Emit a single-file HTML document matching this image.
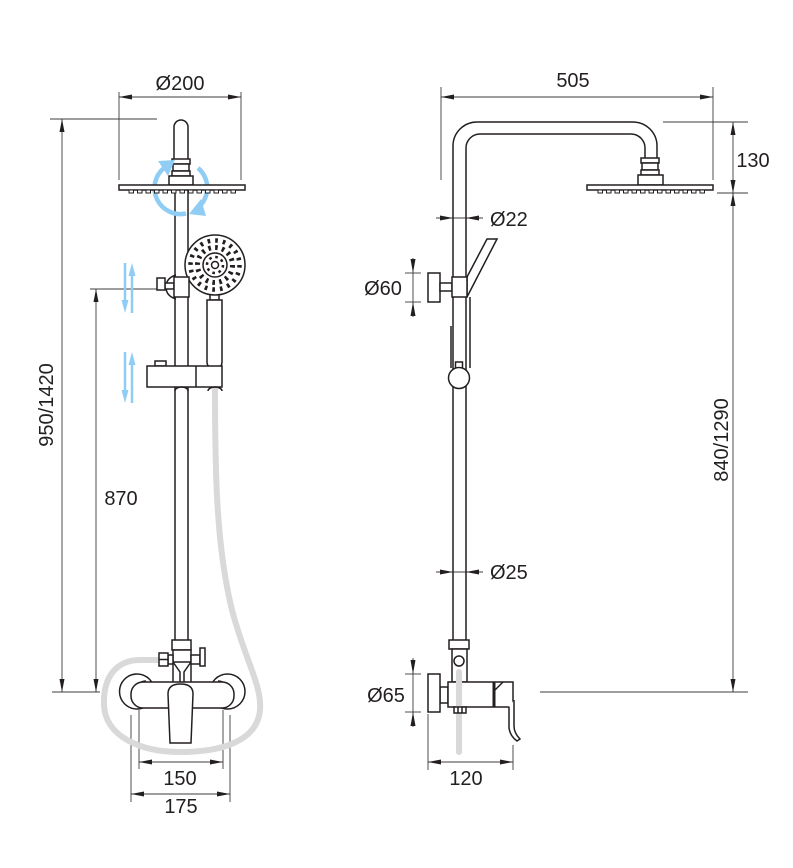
<!DOCTYPE html>
<html><head><meta charset="utf-8"><style>
html,body{margin:0;padding:0;background:#fff;}
svg{display:block;}
text{font-family:"Liberation Sans",sans-serif;font-size:20px;fill:#231f20;}
</style></head><body>
<svg width="793" height="868" viewBox="0 0 793 868" xmlns="http://www.w3.org/2000/svg">

<!-- ================= DIMENSION LINES ================= -->
<g stroke="#3c3c3c" stroke-width="0.9" fill="none">
  <line x1="119" y1="92" x2="119" y2="180"/>
  <line x1="241" y1="92" x2="241" y2="180"/>
  <line x1="119" y1="97" x2="241" y2="97"/>
  <line x1="50" y1="119" x2="157" y2="119"/>
  <line x1="62" y1="119" x2="62" y2="692"/>
  <line x1="52" y1="692" x2="100" y2="692"/>
  <line x1="90" y1="289" x2="157" y2="289"/>
  <line x1="96" y1="289" x2="96" y2="692"/>
  <line x1="139" y1="710" x2="139" y2="769"/>
  <line x1="223" y1="710" x2="223" y2="769"/>
  <line x1="139" y1="762" x2="223" y2="762"/>
  <line x1="131" y1="715" x2="131" y2="802"/>
  <line x1="230" y1="715" x2="230" y2="802"/>
  <line x1="131" y1="794" x2="230" y2="794"/>

  <line x1="441" y1="87" x2="441" y2="180"/>
  <line x1="713" y1="87" x2="713" y2="180"/>
  <line x1="441" y1="97" x2="713" y2="97"/>
  <line x1="663" y1="122" x2="748" y2="122"/>
  <line x1="717" y1="193" x2="748" y2="193"/>
  <line x1="733" y1="122" x2="733" y2="692"/>
  <line x1="540" y1="692" x2="748" y2="692"/>
  <line x1="436" y1="218" x2="483" y2="218"/>
  <line x1="436" y1="572" x2="483" y2="572"/>
  <line x1="405" y1="273" x2="421" y2="273"/>
  <line x1="405" y1="302" x2="421" y2="302"/>
  <line x1="413" y1="258" x2="413" y2="317"/>
  <line x1="405" y1="674" x2="421" y2="674"/>
  <line x1="405" y1="712" x2="421" y2="712"/>
  <line x1="413" y1="658" x2="413" y2="727"/>
  <line x1="428" y1="714" x2="428" y2="770"/>
  <line x1="513" y1="745" x2="513" y2="770"/>
  <line x1="428" y1="762" x2="513" y2="762"/>
</g>

<g fill="#231f20" stroke="none">
  <polygon points="119,97 132,94.5 132,99.5"/>
  <polygon points="241,97 228,94.5 228,99.5"/>
  <polygon points="62,119 59.5,132 64.5,132"/>
  <polygon points="62,692 59.5,679 64.5,679"/>
  <polygon points="96,289 93.5,302 98.5,302"/>
  <polygon points="96,692 93.5,679 98.5,679"/>
  <polygon points="139,762 152,759.5 152,764.5"/>
  <polygon points="223,762 210,759.5 210,764.5"/>
  <polygon points="131,794 144,791.5 144,796.5"/>
  <polygon points="230,794 217,791.5 217,796.5"/>
  <polygon points="441,97 454,94.5 454,99.5"/>
  <polygon points="713,97 700,94.5 700,99.5"/>
  <polygon points="733,122 730.5,135 735.5,135"/>
  <polygon points="733,193 730.5,180 735.5,180"/>
  <polygon points="733,193 730.5,206 735.5,206"/>
  <polygon points="733,692 730.5,679 735.5,679"/>
  <polygon points="453,218 440,215.5 440,220.5"/>
  <polygon points="466,218 479,215.5 479,220.5"/>
  <polygon points="453,572 440,569.5 440,574.5"/>
  <polygon points="466,572 479,569.5 479,574.5"/>
  <polygon points="413,273 410.5,259 415.5,259"/>
  <polygon points="413,302 410.5,316 415.5,316"/>
  <polygon points="413,674 410.5,660 415.5,660"/>
  <polygon points="413,712 410.5,726 415.5,726"/>
  <polygon points="428,762 441,759.5 441,764.5"/>
  <polygon points="513,762 500,759.5 500,764.5"/>
</g>

<!-- ================= LEFT VIEW ================= -->
<path d="M215,388 C215,470 216,545 232,610 C245,660 262,685 260,710 C257,742 220,752 180,752 C140,752 105,736 104,705 C103,675 118,660 140,660 L160,660"
      fill="none" stroke="#d9d9d9" stroke-width="6" stroke-linecap="round"/>

<g stroke="#231f20" stroke-width="1.5" fill="#fff">
  <line x1="175" y1="190" x2="175" y2="640"/>
  <line x1="188" y1="190" x2="188" y2="640"/>
  <path d="M174,159 V127 A7,7 0 0 1 188,127 V159"/>
  <rect x="172" y="159" width="18" height="5"/>
  <rect x="173" y="164" width="16" height="7"/>
  <rect x="172" y="171" width="18" height="5"/>
  <rect x="169" y="176" width="24" height="9"/>
</g>

<!-- blue rotation arrows -->
<g stroke="#90cdf4" stroke-width="4.5" fill="none">
  <path d="M186,213.5 A26,26 0 0 1 164,168"/>
  <path d="M198,168 A26,26 0 0 1 197,208.5"/>
</g>
<g fill="#90cdf4">
  <polygon points="175,160 158,161 168,176"/>
  <polygon points="189,214 206,216 201,199"/>
</g>

<g stroke="#231f20" stroke-width="1.5" fill="#fff">
  <rect x="119" y="185" width="126" height="5"/>
</g>
<g stroke="#231f20" stroke-width="1" fill="#fff">
  <rect x="129" y="190" width="4.5" height="3"/><rect x="137.5" y="190" width="4.5" height="3"/>
  <rect x="146" y="190" width="4.5" height="3"/><rect x="154.5" y="190" width="4.5" height="3"/>
  <rect x="163" y="190" width="4.5" height="3"/><rect x="171.5" y="190" width="4.5" height="3"/>
  <rect x="180" y="190" width="4.5" height="3"/><rect x="188.5" y="190" width="4.5" height="3"/>
  <rect x="197" y="190" width="4.5" height="3"/><rect x="205.5" y="190" width="4.5" height="3"/>
  <rect x="214" y="190" width="4.5" height="3"/><rect x="222.5" y="190" width="4.5" height="3"/>
  <rect x="231" y="190" width="4.5" height="3"/>
</g>

<g stroke="#231f20" stroke-width="1.5" fill="#fff">
  <rect x="210" y="293" width="9" height="7"/>
  <path d="M207,300 H222 V362 Q222,368 214.5,368 Q207,368 207,362 Z"/>
  <circle cx="215" cy="265" r="30"/>
  <circle cx="215" cy="265" r="12"/>
  <circle cx="215" cy="265" r="3.5"/>
</g>
<g fill="none" stroke="#231f20">
  <circle cx="215" cy="265" r="8" stroke-width="2.5" stroke-dasharray="2.6 3.68"/>
  <circle cx="215" cy="265" r="17.5" stroke-width="5" stroke-dasharray="2.6 4.272"/>
  <circle cx="215" cy="265" r="24.5" stroke-width="4.5" stroke-dasharray="2.7 4.997"/>
</g>

<g stroke="#231f20" stroke-width="1.5" fill="#fff">
  <path d="M176,275 Q166,278 166,287 Q166,296 176,299" fill="none"/>
  <rect x="165" y="283" width="9" height="6"/>
  <rect x="157" y="278" width="8" height="12"/>
  <rect x="174" y="277" width="15" height="20"/>
  <rect x="155" y="361" width="11" height="5"/>
  <rect x="147" y="366" width="75" height="21"/>
  <line x1="196" y1="366" x2="196" y2="387"/>
  <path d="M175,391 A6.5,4 0 0 1 188,391" fill="none"/>
  <path d="M208,391 A7,4 0 0 1 222,391" fill="none"/>
</g>

<g stroke="#90cdf4" stroke-width="2.5" fill="none">
  <line x1="125" y1="263" x2="125" y2="302"/>
  <line x1="132" y1="274" x2="132" y2="313"/>
  <line x1="125" y1="352" x2="125" y2="391"/>
  <line x1="132" y1="363" x2="132" y2="403"/>
</g>
<g fill="#90cdf4">
  <polygon points="125,313 121.5,300 128.5,300"/>
  <polygon points="132,263 128.5,276 135.5,276"/>
  <polygon points="125,403 121.5,390 128.5,390"/>
  <polygon points="132,352 128.5,365 135.5,365"/>
</g>

<g stroke="#231f20" stroke-width="1.5" fill="#fff">
  <rect x="172" y="640" width="19" height="10"/>
  <rect x="173" y="650" width="18" height="12"/>
  <path d="M173,662 L180,672 L180,682 M191,662 L184,672 L184,682" fill="none"/>
  <line x1="173" y1="662" x2="173" y2="682"/>
  <line x1="191" y1="662" x2="191" y2="682"/>
  <rect x="168" y="655" width="5" height="9"/>
  <rect x="159" y="653" width="9" height="13"/>
  <line x1="159" y1="659.5" x2="168" y2="659.5"/>
  <rect x="191" y="655" width="9" height="9"/>
  <rect x="200" y="648" width="5" height="18"/>

  <circle cx="137" cy="691.5" r="17.5"/>
  <circle cx="227.5" cy="691.5" r="17.5"/>
  <path d="M146,681 A11,11 0 0 0 146,703" fill="none"/>
  <path d="M218,681 A11,11 0 0 1 218,703" fill="none"/>
  <rect x="131" y="682" width="103" height="26" rx="12"/>
  <path d="M170,743 L168,694 Q168,684 180.5,684 Q193,684 193,694 L191,743 Z"/>
</g>

<!-- ================= RIGHT VIEW ================= -->
<g stroke="#231f20" stroke-width="1.5" fill="none">
  <path d="M453,640 V146 A24,24 0 0 1 477,122 H633 A24,24 0 0 1 657,146 V158"/>
  <path d="M466,640 V148 A14,14 0 0 1 480,134 H631 A14,14 0 0 1 645,148 V158"/>
</g>
<g stroke="#231f20" stroke-width="1.5" fill="#fff">
  <rect x="641" y="158" width="18" height="5"/>
  <rect x="642" y="163" width="16" height="7"/>
  <rect x="641" y="170" width="18" height="5"/>
  <rect x="638" y="175" width="25" height="10"/>
  <rect x="587" y="185" width="126" height="5"/>
</g>
<g stroke="#231f20" stroke-width="1" fill="#fff">
  <rect x="598" y="190" width="4.5" height="3"/><rect x="606.5" y="190" width="4.5" height="3"/>
  <rect x="615" y="190" width="4.5" height="3"/><rect x="623.5" y="190" width="4.5" height="3"/>
  <rect x="632" y="190" width="4.5" height="3"/><rect x="640.5" y="190" width="4.5" height="3"/>
  <rect x="649" y="190" width="4.5" height="3"/><rect x="657.5" y="190" width="4.5" height="3"/>
  <rect x="666" y="190" width="4.5" height="3"/><rect x="674.5" y="190" width="4.5" height="3"/>
  <rect x="683" y="190" width="4.5" height="3"/><rect x="691.5" y="190" width="4.5" height="3"/>
  <rect x="700" y="190" width="4.5" height="3"/>
</g>

<g stroke="#231f20" stroke-width="1.5" fill="#fff">
  <polygon points="467,277 487,239 497,239 467,297"/>
  <line x1="470" y1="297" x2="470" y2="368"/>
  <line x1="451" y1="326" x2="451" y2="368"/>
  <rect x="428" y="273" width="12" height="29"/>
  <rect x="440" y="283" width="12" height="8"/>
  <rect x="452" y="277" width="15" height="20"/>
  <rect x="455.5" y="362" width="7" height="6"/>
  <circle cx="459" cy="378" r="10.5"/>

  <rect x="449" y="640" width="20" height="9"/>
  <rect x="452" y="649" width="15" height="33"/>
  <circle cx="459" cy="661" r="5"/>
  <rect x="440" y="687" width="8" height="16"/>
  <rect x="428" y="674" width="12" height="38"/>
  <rect x="448" y="682" width="65" height="25"/>
  <line x1="494" y1="682" x2="494" y2="707" stroke-width="3"/>
  <line x1="495" y1="690" x2="503" y2="682"/>
  <path d="M509,707 L509,728 Q510,736 517,741 L520,739 Q514,733 514,726 L514,700" fill="#fff"/>
</g>
<line x1="459" y1="672" x2="459" y2="752" stroke="#d9d9d9" stroke-width="6" stroke-linecap="round"/>
<g stroke="#231f20" stroke-width="1.5" fill="#fff">
  <rect x="454" y="707" width="12" height="6"/>
  <line x1="458" y1="707" x2="458" y2="713"/>
  <line x1="462" y1="707" x2="462" y2="713"/>
</g>

<!-- ================= TEXT ================= -->
<text x="180" y="90" text-anchor="middle">Ø200</text>
<text x="121" y="505" text-anchor="middle">870</text>
<text x="180" y="785" text-anchor="middle">150</text>
<text x="181" y="813" text-anchor="middle">175</text>
<text transform="translate(53,405) rotate(-90)" text-anchor="middle">950/1420</text>

<text x="573" y="87" text-anchor="middle">505</text>
<text x="753" y="167" text-anchor="middle">130</text>
<text x="490" y="226">Ø22</text>
<text x="490" y="579">Ø25</text>
<text x="383" y="295" text-anchor="middle">Ø60</text>
<text x="386" y="702" text-anchor="middle">Ø65</text>
<text x="466" y="785" text-anchor="middle">120</text>
<text transform="translate(728,440) rotate(-90)" text-anchor="middle">840/1290</text>
</svg>
</body></html>
